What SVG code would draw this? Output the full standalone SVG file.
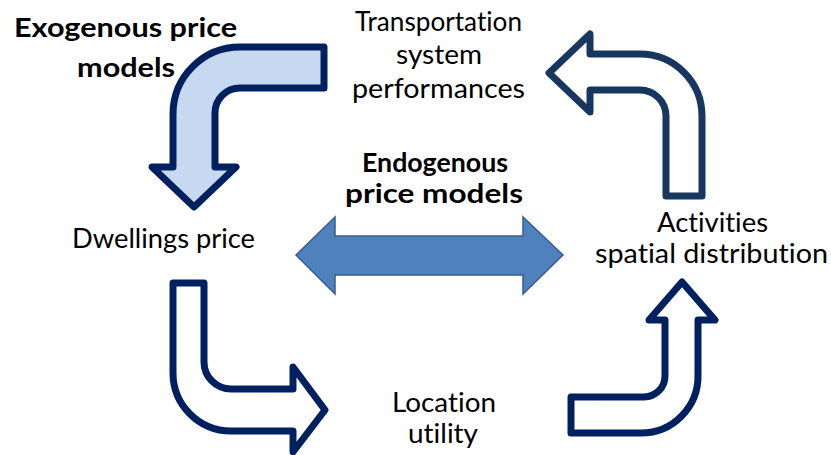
<svg xmlns="http://www.w3.org/2000/svg" width="831" height="455" viewBox="0 0 831 455">
  <style>
    .lbl { font-family: Lato, "Open Sans", "Liberation Sans", sans-serif; font-size: 27px; fill: #000; text-anchor: middle; font-variant-ligatures: none; }
    .bold { font-weight: bold; }
    .bent { stroke-width: 7; stroke-linejoin: round; }
    .navy { stroke: #002060; }
    .slate { stroke: #17375E; }
  </style>
  <rect width="831" height="455" fill="#fff"/>

  <g id="connectors">
    <!-- price feedback: curved arrow from the transport box down to dwellings -->
    <path id="arrow-exogenous" class="bent navy" fill="#C6D9F1"
          d="M324 47 L240 47 A67 67 0 0 0 173 114 L173 167 L152 167 L194 207 L236 167 L215 167 L215 113 A25 25 0 0 1 240 88 L324 88 Z"/>
    <!-- activities back to transport -->
    <path id="arrow-activities-transport" class="bent slate" fill="#fff"
          d="M666 196 L666 116 A26 26 0 0 0 640 90 L590 90 L590 112 L549 73 L590 34 L590 54 L640 54 A62 62 0 0 1 702 116 L702 196 Z"/>
    <!-- dwellings to location -->
    <path id="arrow-dwellings-location" class="bent navy" fill="#fff"
          d="M173 283 L204 283 L204 362 A27 27 0 0 0 231 389 L293 389 L293 367 L325 410 L293 452 L293 431 L231 431 A58 58 0 0 1 173 373 Z"/>
    <!-- location to activities -->
    <path id="arrow-location-activities" class="bent navy" fill="#fff"
          d="M571 397 L644 397 A21 21 0 0 0 665 376 L665 320 L649 320 L682 282 L715 320 L698 320 L698 375 A57 57 0 0 1 641 433 L571 433 Z"/>
    <!-- two-way link between prices and activities -->
    <path id="arrow-endogenous" fill="#4F81BD" stroke="#385D8A" stroke-width="1.5" stroke-linejoin="miter"
          d="M296 255 L335 217 L335 236 L523 236 L523 217 L563 255 L523 294 L523 275 L335 275 L335 294 Z"/>
  </g>

  <g id="label-exogenous">
    <text class="lbl bold" x="125.5" y="37" font-size="32" textLength="223" lengthAdjust="spacingAndGlyphs">Exogenous price</text>
    <text class="lbl bold" x="126" y="77" font-size="32" textLength="98" lengthAdjust="spacingAndGlyphs">models</text>
  </g>
  <g id="node-transport">
    <text class="lbl" x="438.5" y="31" textLength="167" lengthAdjust="spacingAndGlyphs">Transportation</text>
    <text class="lbl" x="439" y="64" textLength="86" lengthAdjust="spacingAndGlyphs">system</text>
    <text class="lbl" x="438.5" y="98" textLength="173" lengthAdjust="spacingAndGlyphs">performances</text>
  </g>
  <g id="label-endogenous">
    <text class="lbl bold" x="435" y="172" textLength="146" lengthAdjust="spacingAndGlyphs">Endogenous</text>
    <text class="lbl bold" x="434" y="203" textLength="178" lengthAdjust="spacingAndGlyphs">price models</text>
  </g>
  <g id="node-activities">
    <text class="lbl" x="712.5" y="232" textLength="111" lengthAdjust="spacingAndGlyphs">Activities</text>
    <text class="lbl" x="711.5" y="263" textLength="233" lengthAdjust="spacingAndGlyphs">spatial distribution</text>
  </g>
  <g id="node-dwellings">
    <text class="lbl" x="163.5" y="248" textLength="183" lengthAdjust="spacingAndGlyphs">Dwellings price</text>
  </g>
  <g id="node-location">
    <text class="lbl" x="444" y="412" textLength="104" lengthAdjust="spacingAndGlyphs">Location</text>
    <text class="lbl" x="443" y="443" textLength="70" lengthAdjust="spacingAndGlyphs">utility</text>
  </g>
</svg>
